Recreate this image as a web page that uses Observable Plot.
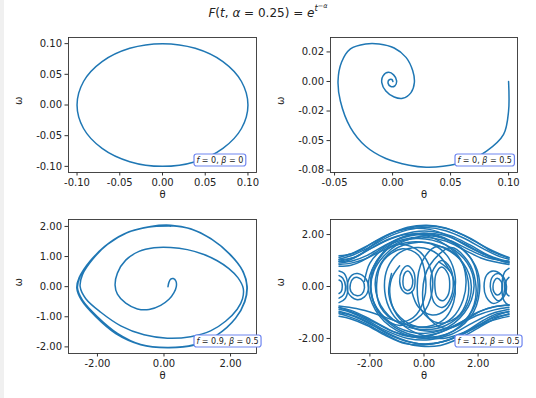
<!DOCTYPE html>
<html><head><meta charset="utf-8">
<script src="https://cdn.jsdelivr.net/npm/d3@7"></script>
<script src="https://cdn.jsdelivr.net/npm/@observablehq/plot@0.6"></script>
<style>
html,body{margin:0;padding:0;background:#fff;}
#wrap{position:relative;width:536px;height:398px;overflow:hidden;font-family:"DejaVu Sans",sans-serif;}
#strip{position:absolute;left:0;top:0;width:4px;height:398px;background:#f0f0f0;}
#title{position:absolute;left:0;width:536px;top:2px;text-align:center;font-size:12px;color:#222;white-space:nowrap;}
#title i{font-style:italic;}
.sup1{font-size:8.5px;vertical-align:6px;}
.sup2{font-size:6.5px;vertical-align:3px;}
.panel{position:absolute;}
</style></head>
<body><div id="wrap"><div id="strip"></div>
<div id="title"><i>F</i>(<i>t</i>, <i>α</i> = 0.25) = <i>e</i><span class="sup1"><i>t</i><span class="sup2">−<i>α</i></span></span></div>
</div>
<script>
// ---------- data ----------
const fValues = ["0", "0", "0.9", "1.2"];
const betaValues = ["0", "0.5", "0.5", "0.5"];

// panel 1: f=0, beta=0 (closed orbit)
const orbit1 = [[0.1,0],[0.0924,-0.0383],[0.0707,-0.0707],[0.0383,-0.0924],[0,-0.1],[-0.0383,-0.0924],[-0.0707,-0.0707],[-0.0924,-0.0383],[-0.1,0],[-0.0924,0.0383],[-0.0707,0.0707],[-0.0383,0.0924],[0,0.1],[0.0383,0.0924],[0.0707,0.0707],[0.0924,0.0383]];
const x1Ticks = [-0.1,-0.05,0,0.05,0.1], x1Labels = ["-0.10","-0.05","0.00","0.05","0.10"];
const y1Ticks = [-0.1,-0.05,0,0.05,0.1], y1Labels = ["-0.10","-0.05","0.00","0.05","0.10"];

// panel 2: f=0, beta=0.5 (damped spiral)
const spiral2 = [[0.1,0],[0.1,-0.025],[0.0957,-0.0448],[0.081,-0.059],[0.064,-0.0675],[0.0435,-0.0718],[0.029,-0.0726],[0.0144,-0.0709],[-0.0058,-0.0652],[-0.0232,-0.0548],[-0.0363,-0.039],[-0.045,-0.0165],[-0.047,0.0005],[-0.044,0.0162],[-0.0363,0.0275],[-0.0232,0.0317],[-0.0116,0.0317],[0.0014,0.0283],[0.0116,0.0204],[0.0174,0.009],[0.0188,-0.0009],[0.0159,-0.0094],[0.0087,-0.0142],[0.0014,-0.0131],[-0.0058,-0.008],[-0.0093,-0.0009],[-0.0082,0.0048],[-0.0035,0.0077],[0.0009,0.0056],[0.0035,0.0005],[0.002,-0.0037],[-0.0015,-0.0043],[-0.0038,-0.0017],[-0.003,0.0014],[-0.0006,0.0017],[0.0003,0]];
const x2Ticks = [-0.05,0,0.05,0.1], x2Labels = ["-0.05","0.00","0.05","0.10"];
const y2Ticks = [0.025,0,-0.025,-0.05,-0.075], y2Labels = ["0.02","0.00","-0.02","-0.05","-0.08"];

// panel 3: f=0.9, beta=0.5 (transient then periodic orbit)
const path3 = [[0.12,0],[0.15,0.15],[0.2,0.25],[0.28,0.27],[0.36,0.18],[0.37,0.0],[0.3,-0.2],[0.15,-0.42],[-0.1,-0.62],[-0.45,-0.76],[-0.8,-0.74],[-1.15,-0.55],[-1.4,-0.25],[-1.47,0.05],[-1.4,0.45],[-1.15,0.88],[-0.75,1.17],[-0.3,1.29],[0.2,1.3],[0.7,1.23],[1.2,1.07],[1.6,0.86],[1.95,0.6],[2.22,0.3],[2.38,-0.05],[2.36,-0.4],[2.2,-0.75],[1.85,-1.15],[1.4,-1.47],[0.8,-1.66],[0.1,-1.71],[-0.6,-1.6],[-1.3,-1.3],[-1.9,-0.85],[-2.35,-0.4],[-2.52,0],[-2.45,0.4],[-2.15,0.9],[-1.7,1.4],[-1.1,1.8],[-0.4,2.0],[0.2,2.04],[0.8,1.92],[1.4,1.6],[1.95,1.1],[2.35,0.55],[2.49,0],[2.42,-0.5],[2.15,-1.05],[1.6,-1.6],[0.9,-1.93],[0.1,-2.02],[-0.7,-1.92],[-1.4,-1.55],[-2.0,-1.0],[-2.45,-0.45],[-2.6,-0.05],[-2.52,0.35],[-2.22,0.85],[-1.76,1.35],[-1.15,1.77],[-0.45,1.98],[0.2,2.02],[0.85,1.9],[1.45,1.56],[2.0,1.06],[2.38,0.5],[2.5,0],[2.43,-0.5],[2.15,-1.05],[1.6,-1.6],[0.9,-1.95],[0.1,-2.03],[-0.7,-1.93],[-1.45,-1.56],[-2.05,-1.0],[-2.48,-0.45],[-2.62,-0.05],[-2.55,0.3],[-2.25,0.8],[-1.8,1.32],[-1.2,1.75],[-0.5,1.97],[0.2,2.01]];
const x3Ticks = [-2,0,2], x3Labels = ["-2.00","0.00","2.00"];
const y3Ticks = [-2,-1,0,1,2], y3Labels = ["-2.00","-1.00","0.00","1.00","2.00"];

// panel 4: f=1.2, beta=0.5 (chaotic, theta wrapped to [-pi, pi]) – open pieces
const pieces4 = [
  [[-3.14,1.12],[-2.6,1.3],[-2.0,1.62],[-1.3,2.0],[-0.6,2.28],[0.1,2.36],[0.8,2.25],[1.5,1.95],[2.2,1.55],[2.8,1.25],[3.14,1.12]],
  [[-3.14,1.05],[-2.6,1.22],[-2.0,1.52],[-1.3,1.92],[-0.6,2.18],[0.1,2.27],[0.8,2.15],[1.5,1.85],[2.2,1.45],[2.8,1.15],[3.14,1.05]],
  [[-3.14,0.97],[-2.5,1.15],[-1.9,1.5],[-1.2,1.85],[-0.4,2.1],[0.3,2.12],[1.0,1.95],[1.7,1.6],[2.4,1.2],[3.14,0.95]],
  [[-3.14,0.9],[-2.6,1.0],[-2.1,1.2],[-1.5,1.55],[-0.8,1.9],[0.0,2.05],[0.7,1.98],[1.4,1.7],[2.1,1.3],[2.7,1.05],[3.14,0.9]],
  [[-3.14,0.85],[-2.7,0.9],[-2.2,1.05],[-1.6,1.35],[-1.0,1.6],[-0.3,1.72],[0.4,1.58],[0.9,1.12],[1.15,0.4],[1.1,-0.3],[0.8,-0.9],[0.3,-1.1],[-0.2,-0.8],[-0.45,-0.2]],
  [[-3.14,1.18],[-2.7,1.25],[-2.3,1.42],[-1.8,1.75],[-1.1,2.1],[-0.3,2.3],[0.5,2.3],[1.2,2.1],[1.9,1.75],[2.5,1.35],[3.14,1.1]],
  [[-2.2,0.2],[-2.0,0.9],[-1.5,1.45],[-0.8,1.8],[0.0,1.9],[0.8,1.75],[1.5,1.4],[2.1,1.1],[2.6,0.95],[3.14,0.85]],
  [[-3.14,0.95],[-2.8,1.0],[-2.4,1.2],[-1.9,1.6],[-1.3,2.0],[-0.6,2.22],[0.2,2.2],[0.9,1.95],[1.6,1.55],[2.3,1.2],[2.8,1.0],[3.14,0.92]],
  [[-3.14,0.78],[-2.7,0.82],[-2.3,0.98],[-1.8,1.3],[-1.2,1.7],[-0.5,1.95],[0.3,1.98],[1.0,1.75],[1.7,1.4],[2.4,1.1],[3.14,0.98]],
  [[-3.14,1.02],[-2.6,1.12],[-2.0,1.45],[-1.4,1.78],[-0.7,2.0],[0.1,1.95],[0.8,1.6],[1.35,1.05],[1.55,0.3],[1.45,-0.5],[1.05,-1.2],[0.4,-1.55],[-0.4,-1.5],[-1.0,-1.05],[-1.3,-0.3],[-1.2,0.5]],
  [[3.14,-1.05],[2.6,-1.25],[2.0,-1.6],[1.3,-2.0],[0.6,-2.27],[-0.1,-2.3],[-0.8,-2.15],[-1.5,-1.8],[-2.2,-1.4],[-2.8,-1.15],[-3.14,-1.05]],
  [[3.14,-0.95],[2.6,-1.15],[2.0,-1.5],[1.3,-1.9],[0.5,-2.17],[-0.2,-2.2],[-0.9,-2.0],[-1.6,-1.65],[-2.3,-1.25],[-2.8,-1.05],[-3.14,-0.95]],
  [[3.14,-0.88],[2.5,-1.05],[1.8,-1.4],[1.0,-1.85],[0.2,-2.05],[-0.6,-2.0],[-1.4,-1.7],[-2.1,-1.3],[-2.7,-1.0],[-3.14,-0.88]],
  [[3.14,-0.8],[2.6,-0.9],[2.0,-1.1],[1.3,-1.45],[0.5,-1.8],[-0.3,-1.92],[-1.1,-1.75],[-1.8,-1.4],[-2.5,-1.05],[-3.14,-0.8]],
  [[3.14,-1.15],[2.4,-1.35],[1.6,-1.75],[0.8,-2.1],[0.0,-2.25],[-0.7,-2.2],[-1.4,-1.9],[-2.1,-1.5],[-2.7,-1.25],[-3.14,-1.15]],
  [[3.14,-0.98],[2.7,-1.05],[2.2,-1.3],[1.6,-1.7],[0.9,-2.05],[0.2,-2.22],[-0.5,-2.15],[-1.2,-1.9],[-1.9,-1.5],[-2.6,-1.15],[-3.14,-1.0]],
  [[3.14,-0.7],[2.6,-0.78],[2.0,-0.98],[1.4,-1.35],[0.7,-1.72],[0.0,-1.95],[-0.7,-1.9],[-1.4,-1.6],[-2.1,-1.2],[-2.7,-0.92],[-3.14,-0.82]],
  [[3.14,-1.08],[2.6,-1.2],[2.0,-1.5],[1.4,-1.8],[0.7,-2.0],[0.0,-1.9],[-0.7,-1.55],[-1.2,-1.0],[-1.45,-0.2],[-1.35,0.7],[-0.9,1.3],[-0.2,1.5],[0.5,1.25],[0.95,0.6]],
  [[-3.14,-0.75],[-2.5,-0.85],[-1.8,-1.05],[-1.0,-1.35],[-0.3,-1.55],[0.3,-1.5],[0.8,-1.2],[1.1,-0.6],[1.15,0.0],[0.95,0.6],[0.55,0.95]],
  [[3.14,-0.72],[2.6,-0.78],[2.1,-0.95],[1.6,-1.25],[0.9,-1.6],[0.2,-1.72],[-0.5,-1.55],[-1.0,-1.1],[-1.25,-0.4],[-1.2,0.3],[-0.9,0.8]],
  [[-3.14,0.42],[-3.0,0.32],[-2.9,0.0],[-2.96,-0.3],[-3.14,-0.45]],
  [[-3.14,0.6],[-2.95,0.5],[-2.82,0.05],[-2.9,-0.45],[-3.14,-0.62]],
  [[-3.14,0.25],[-3.05,0.18],[-3.02,0.0],[-3.06,-0.2],[-3.14,-0.27]],
  [[3.14,0.35],[3.04,0.22],[3.0,-0.05],[3.06,-0.28],[3.14,-0.36]],
  [[3.14,0.7],[2.98,0.55],[2.88,0.0],[2.96,-0.55],[3.14,-0.72]]
];
// panel 4 – loops
const loops4 = [
  [[-0.62,0.8],[-0.4,0.6],[-0.33,0.2],[-0.4,-0.15],[-0.6,-0.28],[-0.8,-0.15],[-0.9,0.2],[-0.82,0.6]],
  [[-0.6,0.6],[-0.45,0.4],[-0.42,0.1],[-0.5,-0.1],[-0.62,-0.15],[-0.74,-0.05],[-0.78,0.2],[-0.72,0.5]],
  [[0.65,1.0],[0.95,0.75],[1.08,0.2],[1.0,-0.4],[0.7,-0.8],[0.4,-0.65],[0.25,-0.1],[0.3,0.55]],
  [[0.65,0.75],[0.88,0.5],[0.95,0.1],[0.88,-0.35],[0.68,-0.55],[0.48,-0.4],[0.4,0.05],[0.45,0.5]],
  [[-0.8,1.45],[-0.2,1.2],[0.05,0.4],[0.0,-0.5],[-0.4,-1.2],[-1.0,-1.35],[-1.6,-0.8],[-1.75,0.1],[-1.5,1.0]],
  [[0.5,1.55],[1.2,1.2],[1.6,0.4],[1.6,-0.5],[1.2,-1.2],[0.5,-1.4],[-0.1,-0.9],[-0.25,0.0],[-0.05,1.0]],
  [[-0.3,1.85],[0.8,1.6],[1.6,0.9],[1.85,0.0],[1.5,-1.0],[0.6,-1.7],[-0.5,-1.75],[-1.4,-1.25],[-1.95,-0.3],[-1.8,0.8],[-1.2,1.55]],
  [[0.2,1.95],[1.2,1.6],[1.9,0.8],[2.05,-0.2],[1.7,-1.2],[0.8,-1.85],[-0.3,-1.9],[-1.3,-1.4],[-1.9,-0.5],[-1.85,0.6],[-1.0,1.6]],
  [[-0.2,1.7],[0.7,1.5],[1.45,0.9],[1.75,0.0],[1.5,-0.9],[0.8,-1.5],[-0.2,-1.65],[-1.1,-1.3],[-1.7,-0.5],[-1.75,0.5],[-1.2,1.35]],
  [[0.0,2.05],[1.0,1.75],[1.75,1.05],[2.0,0.1],[1.8,-0.9],[1.1,-1.7],[0.1,-2.0],[-1.0,-1.7],[-1.8,-0.9],[-2.05,0.2],[-1.6,1.2],[-0.9,1.85]],
  [[-1.1,1.6],[-0.3,1.45],[0.2,0.8],[0.3,-0.2],[-0.1,-1.1],[-0.9,-1.5],[-1.6,-1.1],[-1.95,-0.2],[-1.85,0.8]],
  [[1.0,1.5],[1.6,1.0],[1.9,0.2],[1.85,-0.7],[1.4,-1.4],[0.7,-1.6],[0.1,-1.1],[-0.05,-0.2],[0.2,0.8]],
  [[-2.45,0.35],[-2.25,0.2],[-2.2,-0.05],[-2.3,-0.3],[-2.5,-0.35],[-2.7,-0.2],[-2.72,0.1],[-2.6,0.32]],
  [[-2.45,0.5],[-2.15,0.3],[-2.05,-0.05],[-2.2,-0.4],[-2.5,-0.5],[-2.8,-0.25],[-2.82,0.15],[-2.65,0.45]],
  [[2.75,0.5],[2.95,0.35],[3.05,0.0],[2.95,-0.4],[2.75,-0.55],[2.55,-0.35],[2.45,0.0],[2.55,0.4]],
  [[2.7,0.32],[2.85,0.2],[2.9,0.0],[2.84,-0.25],[2.7,-0.33],[2.58,-0.2],[2.55,0.0],[2.6,0.22]],
  [[2.55,0.6],[2.85,0.45],[2.98,0.0],[2.85,-0.5],[2.55,-0.65],[2.3,-0.4],[2.22,0.0],[2.32,0.45]]
];
const x4Ticks = [-2,0,2], x4Labels = ["-2.00","0.00","2.00"];
const y4Ticks = [-2,0,2], y4Labels = ["-2.00","0.00","2.00"];

// ---------- drawing ----------
const blue = "#1f77b4";
const toRows = (pieces) => pieces.flatMap((p, k) => p.map(([t, w]) => ({seg: k, t, w})));

function makePanel(opts) {
  const {left, top, mLeft, mRight, mTop, mBottom, xDomain, yDomain, xTicks, xLabels, yTicks, yLabels, lineMarks, idx} = opts;
  const W = 268, H = 180;
  const fw = W - mLeft - mRight;
  const plot = Plot.plot({
    width: W, height: H,
    marginLeft: mLeft, marginRight: mRight, marginTop: mTop, marginBottom: mBottom,
    x: {domain: xDomain, label: null},
    y: {domain: yDomain, label: null},
    style: {fontFamily: "DejaVu Sans", fontSize: "10px", background: "transparent", color: "#222"},
    marks: [
      ...lineMarks,
      Plot.frame({stroke: "#333", strokeWidth: 0.9}),
      Plot.axisX({ticks: xTicks, tickFormat: d => xLabels[xTicks.indexOf(d)], tickSize: 3.5, tickPadding: 3, label: null, stroke: "#333"}),
      Plot.axisY({ticks: yTicks, tickFormat: d => yLabels[yTicks.indexOf(d)], tickSize: 3.5, tickPadding: 3, label: null, stroke: "#333"}),
      Plot.text(["θ"], {frameAnchor: "bottom", dy: 25, fontSize: 10, fill: "#222"}),
      Plot.text(["ω"], {frameAnchor: "left", dx: -50, rotate: -90, fontSize: 10, fill: "#222"}),
      Plot.text([`f = ${fValues[idx]}, β = ${betaValues[idx]}`], {frameAnchor: "bottom-left", dx: Math.round(fw * 0.665) + 3, dy: -10, fontSize: 8, textAnchor: "start", fill: "#222", ariaLabel: "anno"})
    ]
  });
  const div = document.createElement("div");
  div.className = "panel";
  div.style.left = left + "px";
  div.style.top = top + "px";
  div.appendChild(plot);
  document.getElementById("wrap").appendChild(div);
  // annotation: math-style italics and a rounded box behind
  let t = plot.querySelector('[aria-label="anno"]');
  if (t && t.tagName.toLowerCase() !== "text") t = t.querySelector("text");
  if (!t) {
    const all = [...plot.querySelectorAll("text")];
    t = all.find(e => e.textContent.startsWith("f = "));
  }
  if (t) {
    const ns = "http://www.w3.org/2000/svg";
    t.textContent = "";
    const parts = [["f", true], [" = " + fValues[idx] + ", ", false], ["β", true], [" = " + betaValues[idx], false]];
    for (const [s, it] of parts) {
      const ts = document.createElementNS(ns, "tspan");
      ts.textContent = s;
      if (it) ts.setAttribute("font-style", "italic");
      t.appendChild(ts);
    }
    const bb = t.getBBox();
    const r = document.createElementNS(ns, "rect");
    r.setAttribute("x", bb.x - 2.5);
    r.setAttribute("y", bb.y - 1.5);
    r.setAttribute("width", bb.width + 5);
    r.setAttribute("height", bb.height + 3);
    r.setAttribute("rx", 2.5);
    r.setAttribute("fill", "white");
    r.setAttribute("stroke", "#6f86f0");
    r.setAttribute("stroke-width", 1.2);
    if (t.getAttribute("transform")) r.setAttribute("transform", t.getAttribute("transform"));
    t.parentNode.insertBefore(r, t);
  }
}

const lineOpts = {x: "t", y: "w", stroke: blue, strokeWidth: 1.5};

makePanel({idx: 0, left: 0, top: 30, mLeft: 68, mRight: 12, mTop: 7, mBottom: 38,
  xDomain: [-0.11, 0.11], yDomain: [-0.11, 0.11], xTicks: x1Ticks, xLabels: x1Labels, yTicks: y1Ticks, yLabels: y1Labels,
  lineMarks: [Plot.line(toRows([orbit1]), {...lineOpts, z: "seg", curve: "catmull-rom-closed"})]});

makePanel({idx: 1, left: 268, top: 30, mLeft: 62, mRight: 19, mTop: 7, mBottom: 38,
  xDomain: [-0.0535, 0.1077], yDomain: [-0.077, 0.0372], xTicks: x2Ticks, xLabels: x2Labels, yTicks: y2Ticks, yLabels: y2Labels,
  lineMarks: [Plot.line(toRows([spiral2]), {...lineOpts, z: "seg", curve: "catmull-rom"})]});

makePanel({idx: 2, left: 0, top: 212, mLeft: 68, mRight: 12, mTop: 7, mBottom: 39,
  xDomain: [-2.87, 2.78], yDomain: [-2.22, 2.23], xTicks: x3Ticks, xLabels: x3Labels, yTicks: y3Ticks, yLabels: y3Labels,
  lineMarks: [Plot.line(toRows([path3]), {...lineOpts, z: "seg", curve: "catmull-rom"})]});

makePanel({idx: 3, left: 268, top: 212, mLeft: 62, mRight: 19, mTop: 7, mBottom: 39,
  xDomain: [-3.456, 3.456], yDomain: [-2.58, 2.58], xTicks: x4Ticks, xLabels: x4Labels, yTicks: y4Ticks, yLabels: y4Labels,
  lineMarks: [
    Plot.line(toRows(pieces4), {...lineOpts, z: "seg", curve: "catmull-rom"}),
    Plot.line(toRows(loops4), {...lineOpts, z: "seg", curve: "catmull-rom-closed"})
  ]});
</script>
</body></html>
